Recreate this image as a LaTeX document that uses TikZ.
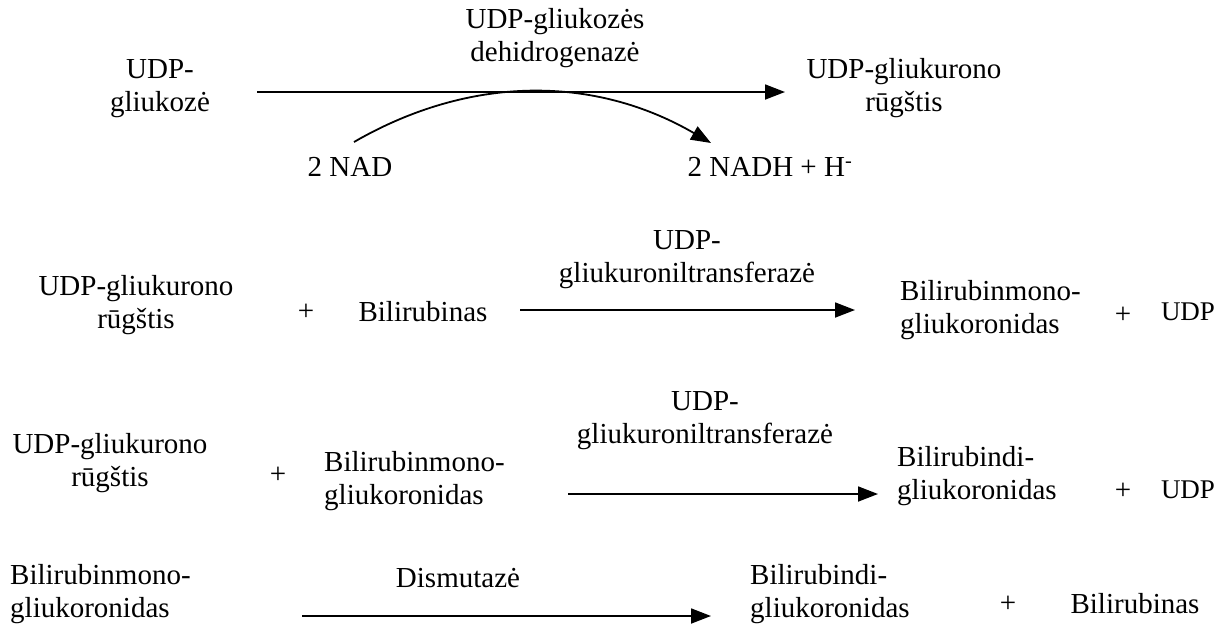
\documentclass[tikz,border=0pt]{standalone}
\usepackage{fontspec}
\setmainfont{Liberation Serif}
\usetikzlibrary{arrows.meta}
\tikzset{
  txt/.style={inner sep=0pt, align=center, font=\fontsize{29}{33}\selectfont},
  ltxt/.style={txt, align=left, anchor=west},
  stxt/.style={inner sep=0pt, font=\fontsize{27}{30}\selectfont},
  rx/.style={line width=1.8pt, -{Triangle[length=20pt,width=15pt]}},
}
\begin{document}
\begin{tikzpicture}[x=1pt,y=-1pt]
\useasboundingbox (0,0) rectangle (1232,624);
% Row 1
\node[txt] (a1) at (160,89) {UDP-\\gliukozė};
\node[txt] (e1) at (555,38) {UDP-gliukozės\\dehidrogenazė};
\node[txt] (b1) at (904,88) {UDP-gliukurono\\rūgštis};
\node[txt] (nad) at (350,167) {2 NAD};
\node[txt] (nadh) at (770,167) {2 NADH + H\textsuperscript{-}};
\coordinate (a1s) at (257,92);
\coordinate (a1e) at (785,92);
\coordinate (c1s) at (354,142);
\coordinate (c1e) at (711,143);
\draw[rx] (a1s) -- (a1e);
\draw[rx] (c1s) .. controls (470,75) and (594,75) .. (c1e);
% Row 2
\node[txt] (r2a) at (136,305) {UDP-gliukurono\\rūgštis};
\node[txt] (p2a) at (306,312) {+};
\node[txt] (r2b) at (423,312) {Bilirubinas};
\node[txt] (e2) at (687,260) {UDP-\\gliukuroniltransferazė};
\node[ltxt] (r2c) at (900,310) {Bilirubinmono-\\gliukoronidas};
\node[txt] (p2b) at (1123,315) {+};
\node[stxt] (r2d) at (1188,312) {UDP};
\coordinate (a2s) at (520,310);
\coordinate (a2e) at (855,310);
\draw[rx] (a2s) -- (a2e);
% Row 3
\node[txt] (r3a) at (110,463) {UDP-gliukurono\\rūgštis};
\node[txt] (p3a) at (278,475) {+};
\node[ltxt] (r3b) at (324,481) {Bilirubinmono-\\gliukoronidas};
\node[txt] (e3) at (705,421) {UDP-\\gliukuroniltransferazė};
\node[ltxt] (r3c) at (897,476) {Bilirubindi-\\gliukoronidas};
\node[txt] (p3b) at (1123,491) {+};
\node[stxt] (r3d) at (1188,490) {UDP};
\coordinate (a3s) at (568,494);
\coordinate (a3e) at (878,494);
\draw[rx] (a3s) -- (a3e);
% Row 4
\node[ltxt] (r4a) at (10,594) {Bilirubinmono-\\gliukoronidas};
\node[txt] (e4) at (458,578) {Dismutazė};
\node[ltxt] (r4b) at (750,594) {Bilirubindi-\\gliukoronidas};
\node[txt] (p4) at (1008,604) {+};
\node[txt] (r4c) at (1135,604) {Bilirubinas};
\coordinate (a4s) at (302,616);
\coordinate (a4e) at (711,616);
\draw[rx] (a4s) -- (a4e);
\end{tikzpicture}
\end{document}
